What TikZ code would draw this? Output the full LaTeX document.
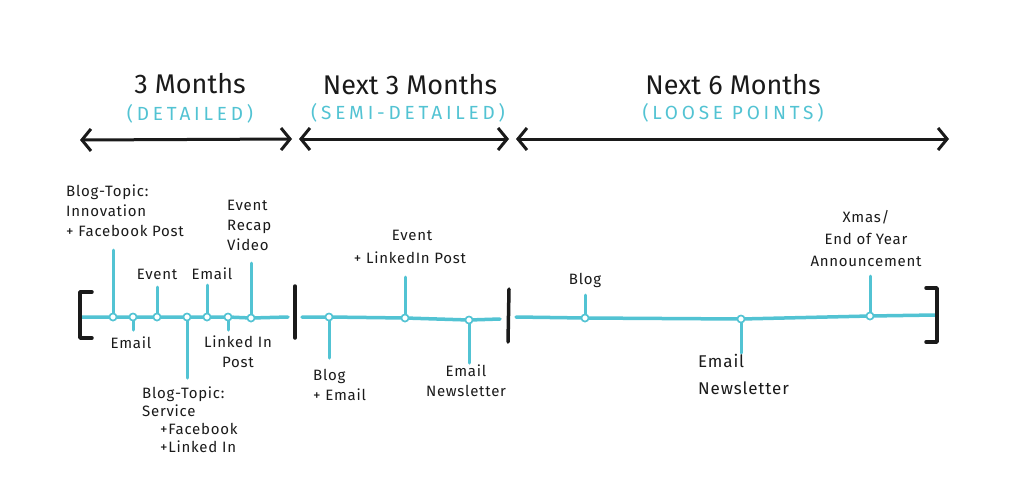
\documentclass[tikz,border=0pt]{standalone}
\usepackage{fontspec}
\setmainfont{Fira Sans}
\usetikzlibrary{arrows.meta}
\definecolor{tl}{HTML}{52C3D3}
\definecolor{ink}{HTML}{1A1A1A}
\begin{document}
\begin{tikzpicture}[x=1pt,y=-1pt,
  tline/.style={tl,line width=3.5pt,line cap=round},
  tickline/.style={tl,line width=3pt,line cap=round},
  dot/.style={circle,draw=tl,fill=white,line width=1.5pt,inner sep=0pt,minimum size=7pt},
  barline/.style={ink,line width=3.5pt,line cap=round,line join=round},
  spanarrow/.style={ink,line width=3pt,line cap=round,
    {Straight Barb[length=9pt,width=22pt,line width=3pt]}-{Straight Barb[length=9pt,width=22pt,line width=3pt]}},
  title/.style={font=\fontsize{27}{30}\selectfont,text=ink,inner sep=0pt},
  sub/.style={font=\fontsize{19}{22}\selectfont\addfontfeature{LetterSpace=20},text=tl,inner sep=0pt},
  lab/.style={font=\fontsize{15}{20}\selectfont\addfontfeature{LetterSpace=5},text=ink,inner sep=0pt}
]
\useasboundingbox[fill=white] (0,0) rectangle (1024,501);

% titles
\node[title] (t1) at (190,84) {3 Months};
\node[sub] (s1) at (190,114) {(DETAILED)};
\node[title] (t2) at (410,85) {Next 3 Months};
\node[sub] (s2) at (408,113) {(SEMI-DETAILED)};
\node[title] (t3) at (733,85) {Next 6 Months};
\node[sub] (s3) at (733,113) {(LOOSE POINTS)};

% span arrows
\coordinate (a1l) at (80,140); \coordinate (a1r) at (292,139);
\coordinate (a2l) at (299,139); \coordinate (a2r) at (509,139);
\coordinate (a3l) at (516,139); \coordinate (a3r) at (949,139);
\draw[spanarrow] (a1l) -- (a1r);
\draw[spanarrow] (a2l) -- (a2r);
\draw[spanarrow] (a3l) -- (a3r);

% timeline ends
\coordinate (l1s) at (82,317); \coordinate (l1e) at (288,317);
\coordinate (l2s) at (302,317); \coordinate (l2e) at (500,319);
\coordinate (l3s) at (516,317); \coordinate (l3e) at (935,315);

% dots
\node[dot] (d1) at (113,317) {};
\node[dot] (d2) at (133,317) {};
\node[dot] (d3) at (157,317) {};
\node[dot] (d4) at (187,317) {};
\node[dot] (d5) at (207,317) {};
\node[dot] (d6) at (228,317) {};
\node[dot] (d7) at (251,318) {};
\node[dot] (e1) at (329,317) {};
\node[dot] (e2) at (405,318) {};
\node[dot] (e3) at (469,320) {};
\node[dot] (f1) at (585,318) {};
\node[dot] (f2) at (741,319) {};
\node[dot] (f3) at (870,316) {};

% tick ends
\coordinate (k1) at (113,250);
\coordinate (k2) at (133,330);
\coordinate (k3) at (157,287);
\coordinate (k4) at (187,378);
\coordinate (k5) at (207,285);
\coordinate (k6) at (228,330);
\coordinate (k7) at (251,263);
\coordinate (m1) at (329,358);
\coordinate (m2) at (405,277);
\coordinate (m3) at (469,363);
\coordinate (n1) at (585,295);
\coordinate (n2) at (741,353);
\coordinate (n3) at (870,276);

% timeline lines
\draw[tline] (l1s) -- (d1) -- (d2) -- (d3) -- (d4) -- (d5) -- (d6) -- (d7) -- (l1e);
\draw[tline] (l2s) -- (e1) -- (e2) -- (e3) -- (l2e);
\draw[tline] (l3s) -- (f1) -- (f2) -- (f3) -- (l3e);

% ticks
\foreach \d/\k in {d1/k1,d2/k2,d3/k3,d4/k4,d5/k5,d6/k6,d7/k7,e1/m1,e2/m2,e3/m3,f1/n1,f2/n2,f3/n3}
  \draw[tickline] (\d) -- (\k);

% redraw dots on top
\foreach \d in {d1,d2,d3,d4,d5,d6,d7,e1,e2,e3,f1,f2,f3}
  \node[dot] at (\d) {};

% brackets and bars
\coordinate (bl1) at (92,292); \coordinate (bl2) at (80,292);
\coordinate (bl3) at (80,338); \coordinate (bl4) at (92,338);
\draw[barline] (bl1) -- (bl2) -- (bl3) -- (bl4);
\coordinate (v1a) at (295,286); \coordinate (v1b) at (295,338);
\draw[barline] (v1a) -- (v1b);
\coordinate (v2a) at (509,289); \coordinate (v2b) at (508,342);
\draw[barline] (v2a) -- (v2b);
\coordinate (br1) at (926,288); \coordinate (br2) at (937,288);
\coordinate (br3) at (937,342); \coordinate (br4) at (926,342);
\draw[barline] (br1) -- (br2) -- (br3) -- (br4);

% labels first segment
\node[lab,align=left,anchor=north west] (L1) at (66,185) {Blog-Topic:\\Innovation\\+ Facebook Post};
\node[lab] (L3) at (157,274) {Event};
\node[lab] (L5) at (212,274) {Email};
\node[lab,align=left,anchor=north west] (L7) at (227,200) {Event\\Recap\\Video};
\node[lab] (L2) at (131,343) {Email};
\node[lab,align=center,anchor=north] (L6) at (238,336) {Linked In\\Post};
\node[lab,align=left,anchor=north west,font=\fontsize{15}{18}\selectfont\addfontfeature{LetterSpace=5}] (L4) at (142,387)
  {Blog-Topic:\\Service\\\hspace*{18pt}+Facebook\\\hspace*{18pt}+Linked In};

% labels second segment
\node[lab] (M2a) at (412,235) {Event};
\node[lab] (M2b) at (410,258) {+ LinkedIn Post};
\node[lab,align=left,anchor=north west] (M1) at (313,369) {Blog\\+ Email};
\node[lab,align=center,anchor=north] (M3) at (466,365) {Email\\Newsletter};

% labels third segment
\node[lab] (N1) at (585,280) {Blog};
\node[lab,align=center,anchor=north,font=\fontsize{15}{22}\selectfont\addfontfeature{LetterSpace=5}] (N3) at (866,210) {Xmas/\\End of Year\\Announcement};
\node[lab,align=left,anchor=north west,font=\fontsize{17}{27}\selectfont\addfontfeature{LetterSpace=5}] (N2) at (698,354) {Email\\Newsletter};
\end{tikzpicture}
\end{document}
